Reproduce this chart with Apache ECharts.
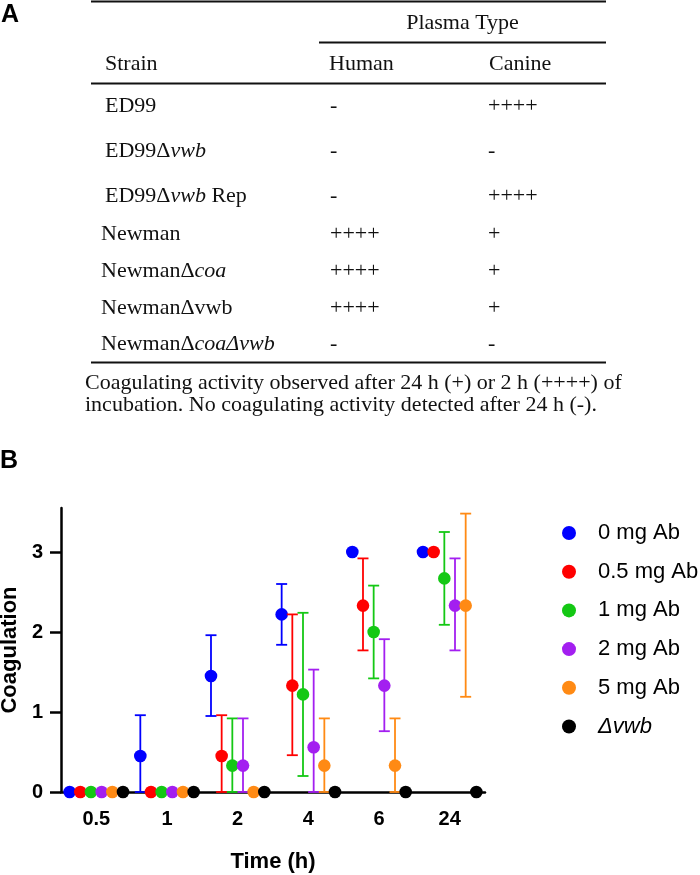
<!DOCTYPE html>
<html>
<head>
<meta charset="utf-8">
<script src="https://cdn.jsdelivr.net/npm/echarts@6/dist/echarts.min.js"></script>
<style>
html,body{margin:0;padding:0;background:#fff;}
#chart{width:700px;height:875px;}
</style>
</head>
<body>
<div id="chart"></div>
<script>
// ---------- Panel A table data ----------
const strainLabels = ['ED99', 'ED99Δ{i|vwb}', 'ED99Δ{i|vwb} Rep', 'Newman', 'NewmanΔ{i|coa}', 'NewmanΔvwb', 'NewmanΔ{i|coaΔvwb}'];
const humanValues = ['-', '-', '-', '++++', '++++', '++++', '-'];
const canineValues = ['++++', '-', '++++', '+', '+', '+', '-'];
const captionLines = [
  'Coagulating activity observed after 24 h (+) or 2 h (++++) of',
  'incubation. No coagulating activity detected after 24 h (-).'
];

// ---------- Panel B chart data ----------
const timeCategories = ['0.5', '1', '2', '4', '6', '24'];
const seriesNames = ['0 mg Ab', '0.5 mg Ab', '1 mg Ab', '2 mg Ab', '5 mg Ab', 'Δvwb'];
const mean0 = [0, 0.45, 1.45, 2.22, 3.0, 3.0];
const low0 = [0, 0, 0.95, 1.84, 3.0, 3.0];
const high0 = [0, 0.96, 1.96, 2.60, 3.0, 3.0];
const mean05 = [0, 0, 0.45, 1.33, 2.33, 3.0];
const low05 = [0, 0, 0, 0.46, 1.77, 3.0];
const high05 = [0, 0, 0.96, 2.22, 2.92, 3.0];
const mean1 = [0, 0, 0.33, 1.22, 2.0, 2.67];
const low1 = [0, 0, 0, 0.20, 1.42, 2.09];
const high1 = [0, 0, 0.92, 2.24, 2.58, 3.25];
const mean2 = [0, 0, 0.33, 0.56, 1.33, 2.33];
const low2 = [0, 0, 0, 0, 0.76, 1.77];
const high2 = [0, 0, 0.92, 1.53, 1.91, 2.92];
const mean5 = [0, 0, 0, 0.33, 0.33, 2.33];
const low5 = [0, 0, 0, 0, 0, 1.19];
const high5 = [0, 0, 0, 0.92, 0.92, 3.48];
const meanVwb = [0, 0, 0, 0, 0, 0];
const lowVwb = [0, 0, 0, 0, 0, 0];
const highVwb = [0, 0, 0, 0, 0, 0];
const yTicks = [0, 1, 2, 3];

const seriesColors = ['#0000ff', '#ff0000', '#14c814', '#a31ff0', '#ff8a14', '#000000'];
const means = [mean0, mean05, mean1, mean2, mean5, meanVwb];
const lows = [low0, low05, low1, low2, low5, lowVwb];
const highs = [high0, high05, high1, high2, high5, highVwb];

const SERIF = '"Liberation Serif", "Times New Roman", serif';
const SANS = '"Liberation Sans", Arial, sans-serif';

// ---------- graphic (table) ----------
const graphics = [];
function addText(text, x, y, opts) {
  graphics.push({
    type: 'text', x: x, y: y, silent: true,
    style: Object.assign({
      text: text, fill: '#111', font: '22px ' + SERIF,
      verticalAlign: 'middle', align: 'left',
      rich: { i: { fontStyle: 'italic', fontSize: 22, fontFamily: SERIF, fill: '#111' } }
    }, opts || {})
  });
}
function addLine(x1, y1, x2, y2, w) {
  graphics.push({ type: 'line', silent: true, shape: { x1: x1, y1: y1, x2: x2, y2: y2 }, style: { stroke: '#111', lineWidth: w } });
}
// panel letters
addText('A', 1, 15, { font: 'bold 25px ' + SANS, fill: '#000' });
addText('B', 0, 461, { font: 'bold 25px ' + SANS, fill: '#000' });
// rules
addLine(91, 1.5, 606, 1.5, 2);
addLine(319, 42.5, 606, 42.5, 2);
addLine(91, 83.5, 606, 83.5, 2);
addLine(91, 362.5, 606, 362.5, 2);
// headers
addText('Plasma Type', 462.5, 23, { align: 'center' });
addText('Strain', 105, 64);
addText('Human', 329, 64);
addText('Canine', 489, 64);
const rowY = [106, 151, 196, 234, 271, 308, 344];
strainLabels.forEach(function (s, i) {
  addText(s, i < 3 ? 105 : 101, rowY[i]);
  addText(humanValues[i], 330, rowY[i]);
  addText(canineValues[i], 488, rowY[i]);
});
captionLines.forEach(function (c, i) {
  addText(c, 85, 383 + i * 22);
});

// ---------- series ----------
function makeRender(k) {
  return function (params, api) {
    const ci = api.value(0);
    const m = api.value(1), lo = api.value(2), hi = api.value(3);
    const c = api.coord([ci, m]);
    const band = api.size([1, 0])[0];
    const x = c[0] + (k - 2.5) * band * 0.151;
    const color = seriesColors[k];
    const children = [];
    if (lo !== m || hi !== m) {
      const yl = api.coord([ci, lo])[1];
      const yh = api.coord([ci, hi])[1];
      const ls = { stroke: color, lineWidth: 1.8 };
      children.push({ type: 'line', shape: { x1: x, y1: yl, x2: x, y2: yh }, style: ls });
      children.push({ type: 'line', shape: { x1: x - 5.5, y1: yl, x2: x + 5.5, y2: yl }, style: ls });
      children.push({ type: 'line', shape: { x1: x - 5.5, y1: yh, x2: x + 5.5, y2: yh }, style: ls });
    }
    children.push({ type: 'circle', shape: { cx: x, cy: c[1], r: 6.3 }, style: { fill: color } });
    return { type: 'group', children: children };
  };
}
const series = seriesNames.map(function (name, k) {
  return {
    type: 'custom', name: name, clip: false, z: 5,
    itemStyle: { color: seriesColors[k] },
    renderItem: makeRender(k),
    encode: { x: 0, y: 1 },
    data: timeCategories.map(function (t, i) { return [i, means[k][i], lows[k][i], highs[k][i]]; })
  };
});

const chart = echarts.init(document.getElementById('chart'), null, { renderer: 'canvas' });
chart.setOption({
  animation: false,
  backgroundColor: '#fff',
  grid: { left: 61, right: 215, top: 508, bottom: 83, containLabel: false, outerBoundsMode: 'none' },
  legend: {
    orient: 'vertical', left: 557, top: 517,
    icon: 'circle', itemWidth: 14, itemHeight: 14, itemGap: 16.7,
    data: seriesNames,
    selectedMode: false,
    formatter: function (n) { return n === 'Δvwb' ? '{i|Δvwb}' : n; },
    textStyle: {
      fontFamily: SANS, fontSize: 22, color: '#000', lineHeight: 22, padding: [0, 0, 0, 17],
      rich: { i: { fontStyle: 'italic', fontFamily: SANS, fontSize: 22, color: '#000', lineHeight: 22 } }
    }
  },
  xAxis: {
    type: 'category', data: timeCategories, boundaryGap: true,
    name: 'Time (h)', nameLocation: 'middle', nameGap: 59,
    nameTextStyle: { fontFamily: SANS, fontSize: 22, fontWeight: 'bold', color: '#000' },
    axisLine: { lineStyle: { color: '#000', width: 2.5 } },
    axisTick: { alignWithLabel: true, length: 10, lineStyle: { color: '#000', width: 2.5 } },
    axisLabel: { fontFamily: SANS, fontSize: 20, fontWeight: 'bold', color: '#000', margin: 17 },
    splitLine: { show: false }
  },
  yAxis: {
    type: 'value', min: 0, max: 3.55, interval: 1,
    name: 'Coagulation', nameLocation: 'middle', nameGap: 30, nameRotate: 90,
    nameTextStyle: { fontFamily: SANS, fontSize: 22, fontWeight: 'bold', color: '#000' },
    axisLine: { show: true, lineStyle: { color: '#000', width: 2.5 } },
    axisTick: { show: true, length: 11, customValues: yTicks, lineStyle: { color: '#000', width: 2.5 } },
    axisLabel: { fontFamily: SANS, fontSize: 20, fontWeight: 'bold', color: '#000', margin: 18, customValues: yTicks },
    splitLine: { show: false }
  },
  graphic: graphics,
  series: series
});
</script>
</body>
</html>
